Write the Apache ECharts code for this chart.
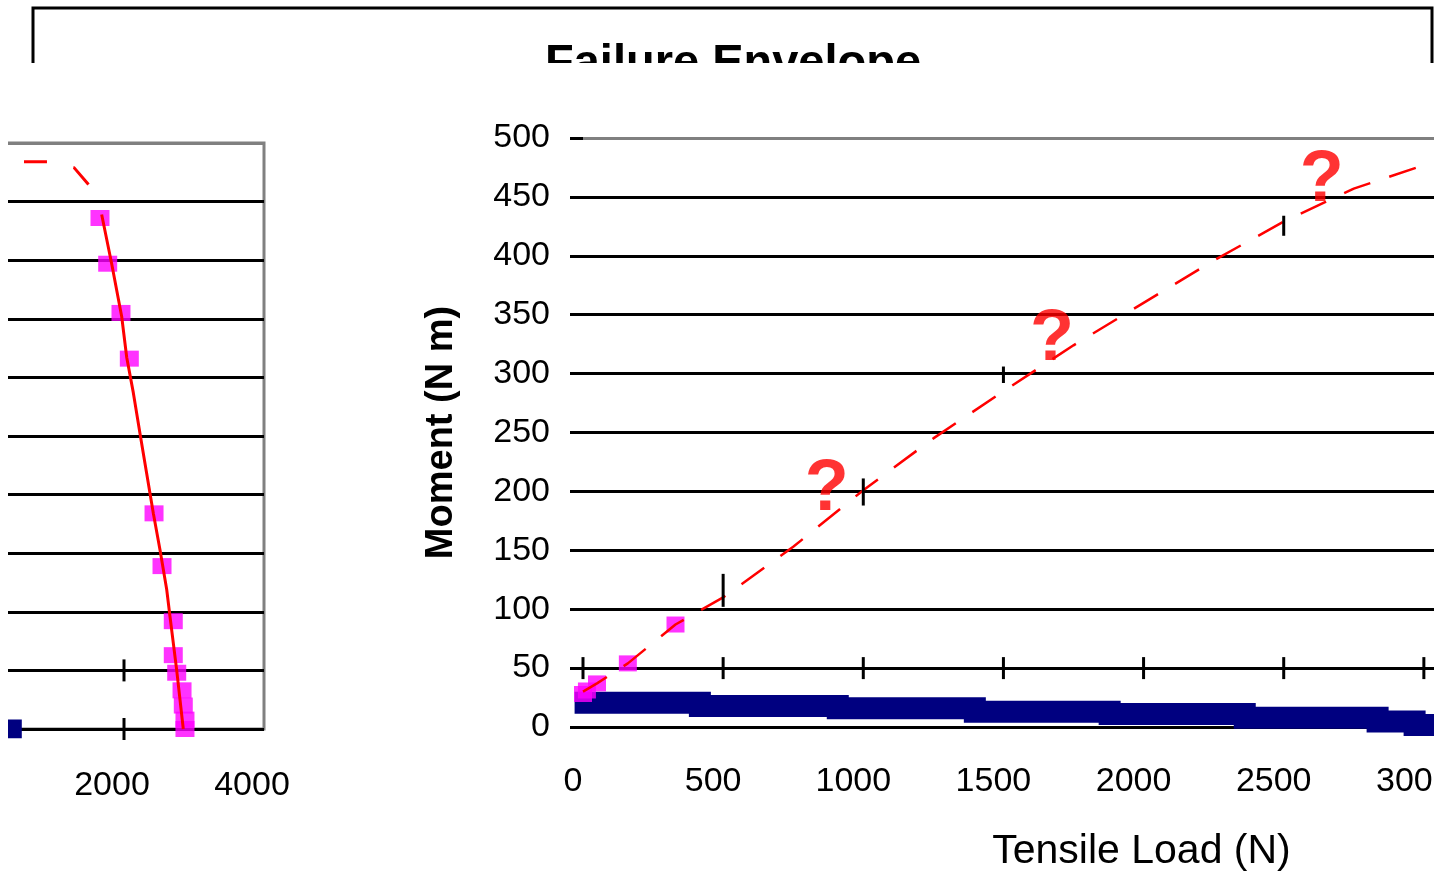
<!DOCTYPE html>
<html><head><meta charset="utf-8">
<script src="https://cdn.jsdelivr.net/npm/echarts@6/dist/echarts.min.js"></script>
<style>html,body{margin:0;padding:0;background:#fff}#c{width:1434px;height:872px}</style>
</head><body><div id="c"></div>
<script>
// ---------- Right panel: Tensile Load (N) vs Moment (N m) ----------
const envLoad    = [0, 50, 160, 330, 500, 750, 1000, 1250, 1500, 1750, 2000, 2250, 2500, 2750, 3050];
const envMoment  = [30, 37, 54, 87, 110, 153, 201, 245, 285, 324, 360, 396, 429, 457, 481];
const testLoad   = [0, 14, 50, 160, 330];
const testMoment = [28, 31, 37, 54, 87];
const bandLoad   = [-30, 417, 909, 1398, 1879, 2361, 2835, 2967, 3100];
const bandMoment = [20.5, 17.8, 16, 13, 11, 7.9, 4.7, 1.7, 1.7];
const qLoad      = [870, 1673, 2636];
const qMoment    = [201, 328, 463];
const barLoad    = [500, 1000, 1500, 2500];
const barLow     = [102, 188, 292, 417];
const barHigh    = [130, 211, 306, 434];
const loadTicks  = [0, 500, 1000, 1500, 2000, 2500, 3000];
const axisCross  = 50;

// ---------- Left panel (cropped) ----------
const leftTopLoad    = [571, 900, 1286, 1586];
const leftTopMoment  = [484, 484, 479, 458];
const leftEnvLoad    = [1681, 1824, 1967, 2039, 2133, 2229, 2324, 2419, 2514, 2610, 2657, 2753, 2847];
const leftEnvMoment  = [439, 397, 352, 317, 287, 252, 218, 184, 153, 119, 96, 50, 0];
const leftSqLoad     = [1657, 1767, 1957, 2076, 2429, 2543, 2704, 2704, 2753, 2829, 2847, 2871, 2871];
const leftSqMoment   = [436, 397, 355, 316, 184, 139, 92, 63, 48, 33, 20, 8, 0];
const leftBandLoad   = [0, 540];
const leftBandMoment = [0, 0];
const leftTickLoad   = [2000, 2000];
const leftTickMoment = [50, 0];

const zip = (a, b) => a.map((v, i) => [v, b[i]]);
const BLACK = '#000000', GRAY = '#808080';
const splitColors = [BLACK, BLACK, BLACK, BLACK, BLACK, BLACK, BLACK, BLACK, BLACK, BLACK, GRAY];
const labelFont = '"Liberation Sans", Arial, sans-serif';

const crossTick = (params, api) => {
  const p = api.coord([api.value(0), api.value(1)]);
  return { type: 'line', shape: { x1: p[0], y1: p[1] - 11, x2: p[0], y2: p[1] + 11 },
           style: { stroke: BLACK, lineWidth: 3 } };
};

const chart = echarts.init(document.getElementById('c'), null, { renderer: 'canvas' });
chart.setOption({
  animation: false,
  backgroundColor: '#ffffff',
  grid: [
    { left: 583, top: 138, width: 981, height: 589, containLabel: false, outerBoundsMode: 'none' },
    { left: -16, top: 143, width: 280, height: 586, containLabel: false, outerBoundsMode: 'none',
      show: true, borderColor: GRAY, borderWidth: 3, backgroundColor: 'transparent' }
  ],
  xAxis: [
    { type: 'value', gridIndex: 0, min: 0, max: 3500, interval: 500,
      axisLine: { show: false }, axisTick: { show: false }, splitLine: { show: false },
      axisLabel: { fontSize: 34, fontFamily: labelFont, color: BLACK, margin: 38, padding: [0, 20, 0, 0],
                   formatter: v => String(v) },
      name: 'Tensile Load (N)', nameLocation: 'middle', nameGap: 104,
      nameTextStyle: { fontSize: 41, fontFamily: labelFont, color: BLACK, padding: [0, 0, 0, 136] } },
    { type: 'value', gridIndex: 1, min: 0, max: 4000, interval: 2000,
      axisLine: { show: false }, axisTick: { show: false }, splitLine: { show: false },
      axisLabel: { fontSize: 34, fontFamily: labelFont, color: BLACK, margin: 40, padding: [0, 24, 0, 0],
                   formatter: v => (v === 0 ? '' : String(v)) } }
  ],
  yAxis: [
    { type: 'value', gridIndex: 0, min: 0, max: 500, interval: 50,
      axisLine: { show: false },
      axisTick: { show: true, length: 13, lineStyle: { color: BLACK, width: 3 } },
      axisLabel: { fontSize: 34, fontFamily: labelFont, color: BLACK, margin: 33, formatter: v => String(v) },
      splitLine: { show: true, lineStyle: { color: splitColors, width: 3 } },
      name: 'Moment (N m)', nameLocation: 'middle', nameGap: 122,
      nameTextStyle: { fontSize: 38, fontWeight: 'bold', fontFamily: labelFont, color: BLACK } },
    { type: 'value', gridIndex: 1, min: 0, max: 500, interval: 50,
      axisLine: { show: false }, axisTick: { show: false }, axisLabel: { show: false },
      splitLine: { show: true, lineStyle: { color: splitColors, width: 3 } } }
  ],
  series: [
    { type: 'line', xAxisIndex: 0, yAxisIndex: 0, data: zip(bandLoad, bandMoment), step: 'end',
      symbol: 'none', z: 2, clip: true, lineStyle: { color: '#000080', width: 22, cap: 'butt', join: 'miter' } },
    { type: 'scatter', xAxisIndex: 0, yAxisIndex: 0, data: zip(testLoad, testMoment),
      symbol: 'rect', symbolSize: [18, 16], z: 3, itemStyle: { color: '#FF00FF' } },
    { type: 'line', xAxisIndex: 0, yAxisIndex: 0, data: zip(envLoad, envMoment), symbol: 'none', z: 4,
      lineStyle: { color: '#FF0000', width: 2.5, type: [28, 20] } },
    { type: 'custom', xAxisIndex: 0, yAxisIndex: 0, z: 5,
      data: barLoad.map((v, i) => [v, barLow[i], barHigh[i]]),
      encode: { x: 0, y: [1, 2] },
      renderItem: (params, api) => {
        const a = api.coord([api.value(0), api.value(1)]);
        const b = api.coord([api.value(0), api.value(2)]);
        return { type: 'line', shape: { x1: a[0], y1: a[1], x2: b[0], y2: b[1] }, style: { stroke: BLACK, lineWidth: 3 } };
      } },
    { type: 'custom', xAxisIndex: 0, yAxisIndex: 0, z: 5,
      data: loadTicks.map(v => [v, axisCross]), encode: { x: 0, y: 1 }, renderItem: crossTick },
    { type: 'scatter', xAxisIndex: 0, yAxisIndex: 0, data: zip(qLoad, qMoment), symbolSize: 1, z: 6,
      itemStyle: { color: 'rgba(0,0,0,0)' },
      label: { show: true, position: 'inside', formatter: '?', color: '#FF0000',
               fontSize: 72, fontWeight: 'bold', fontFamily: labelFont } },

    { type: 'line', xAxisIndex: 1, yAxisIndex: 1, data: zip(leftBandLoad, leftBandMoment), symbol: 'none', z: 2,
      lineStyle: { color: '#000080', width: 19 } },
    { type: 'scatter', xAxisIndex: 1, yAxisIndex: 1, data: zip(leftSqLoad, leftSqMoment),
      symbol: 'rect', symbolSize: [19, 16], z: 3, itemStyle: { color: '#FF00FF' } },
    { type: 'line', xAxisIndex: 1, yAxisIndex: 1, data: zip(leftTopLoad, leftTopMoment), symbol: 'none', z: 4,
      lineStyle: { color: '#FF0000', width: 3, type: [23, 27] } },
    { type: 'line', xAxisIndex: 1, yAxisIndex: 1, data: zip(leftEnvLoad, leftEnvMoment), symbol: 'none', z: 4,
      lineStyle: { color: '#FF0000', width: 3 } },
    { type: 'custom', xAxisIndex: 1, yAxisIndex: 1, z: 5,
      data: zip(leftTickLoad, leftTickMoment), encode: { x: 0, y: 1 }, renderItem: crossTick }
  ],
  graphic: [
    { type: 'polyline', z: 90, shape: { points: [[33, 63], [33, 8], [1432, 8], [1432, 63]] },
      style: { stroke: BLACK, lineWidth: 3, fill: null } },
    { type: 'text', z: 90, x: 545, y: 41,
      style: { text: 'Failure Envelope', font: 'bold 47px "Liberation Sans", Arial, sans-serif', fill: BLACK } },
    { type: 'rect', z: 100, shape: { x: 0, y: 63, width: 1434, height: 52 }, style: { fill: '#ffffff' } },
    { type: 'rect', z: 100, shape: { x: 0, y: 130, width: 8, height: 640 }, style: { fill: '#ffffff' } }
  ]
});
</script>
</body></html>
